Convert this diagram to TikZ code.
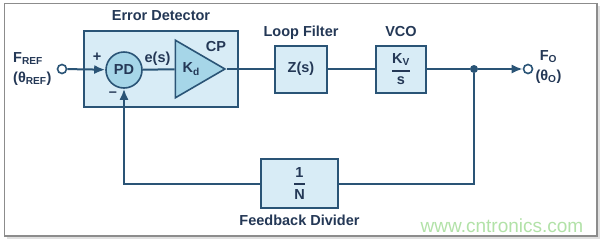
\documentclass[tikz,border=0pt]{standalone}
\usepackage{amsmath}
\usepackage{fontspec}
\setmainfont{Liberation Sans}
\usetikzlibrary{positioning,arrows.meta,calc,shapes.geometric}
\definecolor{pllnavy}{RGB}{42,84,118}
\definecolor{plltext}{RGB}{36,56,86}
\definecolor{lightbox}{RGB}{216,236,246}
\definecolor{deepbox}{RGB}{166,214,232}
\definecolor{wmgreen}{RGB}{178,226,168}
\newcommand{\bigtxt}{\bfseries\fontsize{14.5}{20}\selectfont}
\newcommand{\barfrac}[2]{$\genfrac{}{}{1.6pt}{0}{\text{#1}}{\text{#2}}$}
\tikzset{
  blk/.style  ={draw=pllnavy, fill=lightbox, line width=2pt, minimum width=52pt,
                minimum height=47pt, inner sep=0pt, font=\bigtxt, text=plltext},
  ttl/.style  ={font=\bigtxt, text=plltext, inner sep=1pt, text height=10pt, text depth=3pt},
  sgn/.style  ={font=\bigtxt, text=plltext, inner sep=1pt},
  pin/.style  ={circle, draw=pllnavy, fill=white, line width=1.6pt, minimum size=9pt, inner sep=0pt},
  ln/.style   ={draw=pllnavy, line width=2pt},
  ar/.style   ={-{Latex[length=11pt,width=9pt]}, draw=pllnavy, line width=2pt},
}

\begin{document}
\begin{tikzpicture}[x=1pt,y=-1pt]
\useasboundingbox (0,0) rectangle (604,242);
% frame
\fill[black!12] (6.5,5.5) rectangle (599.5,238.5);
\draw[black!45, fill=white, line width=1.2pt] (4.5,3.5) rectangle (597,236);

% error detector
\node[blk, minimum width=154pt, minimum height=76pt] (ed) at (161,69) {};
\node[ttl, above=5pt of ed] (edt) {Error Detector};
\node[pin] (fin) at (62,69) {};
\node[sgn, left=4pt of fin, align=left] (finl) {F\textsubscript{REF}\\(θ\textsubscript{REF})};
\node[circle, draw=pllnavy, fill=deepbox, line width=1.6pt, minimum size=36pt, inner sep=0pt,
  font=\bigtxt, text=plltext] (pd) at (124,70) {PD};
\node[isosceles triangle, isosceles triangle stretches, draw=pllnavy, fill=deepbox,
  line width=1.6pt, minimum width=57.5pt, minimum height=49.5pt, inner sep=0pt,
  anchor=apex, font=\bigtxt, text=plltext] (cp) at (227,69) {K\textsubscript{d}};
\node[sgn] (cpl) at (216,46.5) {CP};
\node[sgn] (esl) at (157.5,59) {e(s)};
\node[sgn] (plus) at (97,57) {+};
\node[sgn] (minus) at (113,94) {–};

% forward path
\node[blk] (lf) at (301,69) {Z(s)};
\node[ttl, above=3.5pt of lf] (lft) {Loop Filter};
\node[blk, minimum width=50pt] (vco) at (401,69) {\barfrac{K\textsubscript{V}}{s}};
\node[ttl, above=3.5pt of vco] (vcot) {VCO};
\node[circle, fill=pllnavy, minimum size=8pt, inner sep=0pt] (jn) at (474,69) {};
\node[pin] (fout) at (528,69) {};
\node[sgn, right=1pt of fout, align=center, yshift=2pt] (foutl) {F\textsubscript{O}\\(θ\textsubscript{O})};

% feedback
\node[blk, minimum width=77pt, minimum height=49pt] (fbd) at (299.5,183.5) {\barfrac{1}{N}};
\node[ttl, below=5pt of fbd] (fbdt) {Feedback Divider};

\draw[ar] (fin) -- (pd);
\draw[ln] (pd) -- (cp);
\draw[ln] (cp.apex) -- (lf);
\draw[ln] (lf) -- (vco);
\draw[ln] (vco) -- (jn);
\draw[ar] (jn) -- (fout);
\draw[ln] (jn) |- (fbd);
\draw[ar] (fbd) -| (pd);

\node[font=\fontsize{19}{20}\selectfont, text=wmgreen] (wm) at (502,226) {www.cntronics.com};
\end{tikzpicture}
\end{document}
